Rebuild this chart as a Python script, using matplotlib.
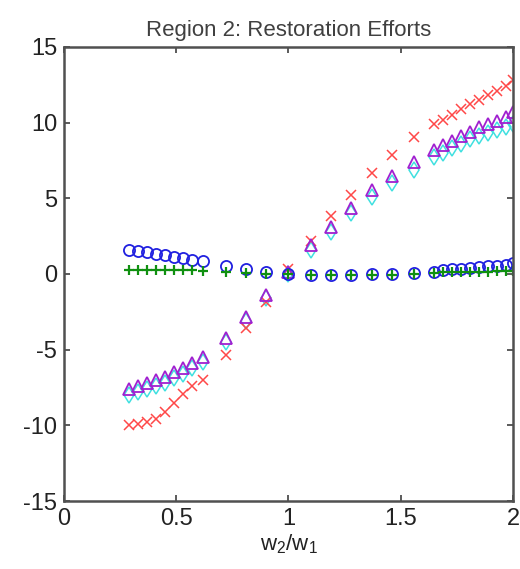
import matplotlib
matplotlib.use("Agg")
import matplotlib.pyplot as plt

plt.rcParams['font.family'] = ['Liberation Sans', 'DejaVu Sans']
plt.rcParams['mathtext.fontset'] = 'custom'
plt.rcParams['mathtext.rm'] = 'Liberation Sans'
plt.rcParams['mathtext.it'] = 'Liberation Sans'

x = [0.29, 0.33, 0.37, 0.41, 0.45, 0.49, 0.53, 0.57, 0.62,
     0.72, 0.81, 0.90, 1.00, 1.10, 1.19, 1.28, 1.37, 1.46, 1.56, 1.65,
     1.69, 1.73, 1.77, 1.81, 1.85, 1.89, 1.93, 1.97, 2.00]

blue_circ = [1.6, 1.5, 1.45, 1.35, 1.25, 1.15, 1.05, 0.95, 0.85,
             0.55, 0.3, 0.15, 0.0, -0.05, -0.05, -0.05, 0.0, 0.0, 0.05, 0.15,
             0.25, 0.3, 0.35, 0.4, 0.45, 0.5, 0.55, 0.6, 0.7]
green_plus = [0.25, 0.25, 0.25, 0.25, 0.25, 0.25, 0.25, 0.25, 0.2,
              0.15, 0.05, 0.0, 0.0, -0.05, -0.05, -0.05, -0.05, -0.05, 0.0, 0.05,
              0.1, 0.1, 0.1, 0.15, 0.15, 0.15, 0.2, 0.2, 0.2]
magenta_tri = [-7.6, -7.4, -7.2, -7.0, -6.8, -6.5, -6.2, -5.9, -5.5,
               -4.2, -2.85, -1.4, 0.1, 1.9, 3.1, 4.35, 5.55, 6.5, 7.4, 8.2,
               8.5, 8.8, 9.1, 9.4, 9.7, 9.9, 10.1, 10.4, 10.7]
cyan_dia = [-8.0, -7.8, -7.6, -7.4, -7.2, -6.9, -6.6, -6.2, -5.8,
            -4.5, -3.1, -1.6, 0.0, 1.6, 2.8, 4.0, 5.1, 6.0, 6.9, 7.7,
            8.0, 8.3, 8.6, 8.9, 9.1, 9.3, 9.5, 9.7, 9.9]
red_x = [-10.0, -9.9, -9.8, -9.6, -9.1, -8.5, -7.9, -7.4, -7.0,
         -5.35, -3.6, -1.85, 0.3, 2.2, 3.8, 5.2, 6.65, 7.85, 9.05, 9.9,
         10.2, 10.5, 10.9, 11.2, 11.5, 11.8, 12.1, 12.4, 12.8]

xticks = [0, 0.5, 1, 1.5, 2]
xticklabels = ['0', '0.5', '1', '1.5', '2']
yticks = [-15, -10, -5, 0, 5, 10, 15]
yticklabels = ['-15', '-10', '-5', '0', '5', '10', '15']

fig = plt.figure(figsize=(5.2, 5.69), dpi=100)
ax = fig.add_axes([0.123, 0.1195, 0.8635, 0.798])

ms = 8
ax.plot(x, cyan_dia, linestyle='none', marker='d', markersize=ms, markerfacecolor='none',
        markeredgecolor='#40e0e0', markeredgewidth=1.1)
ax.plot(x, red_x, linestyle='none', marker='x', markersize=7, color='#ff4848', markeredgewidth=1.1)
ax.plot(x, magenta_tri, linestyle='none', marker='^', markersize=ms + 1, markerfacecolor='none',
        markeredgecolor='#a020d0', markeredgewidth=1.3)
ax.plot(x, blue_circ, linestyle='none', marker='o', markersize=ms, markerfacecolor='none',
        markeredgecolor='#2020e0', markeredgewidth=1.3)
ax.plot(x, green_plus, linestyle='none', marker='+', markersize=7, color='#109010', markeredgewidth=1.6)

ax.set_xlim(0, 2)
ax.set_ylim(-15, 15)
ax.set_xticks(xticks)
ax.set_xticklabels(xticklabels)
ax.set_yticks(yticks)
ax.set_yticklabels(yticklabels)
ax.tick_params(direction='in', top=True, right=True, length=4, width=1.2, labelsize=17,
               color='#404040', labelcolor='#222222')
ax.tick_params(axis='x', pad=5)
ax.tick_params(axis='y', pad=5)
for s in ax.spines.values():
    s.set_linewidth(1.8)
    s.set_color('#505050')

ax.set_title('Region 2: Restoration Efforts', fontsize=16, color='#404040', pad=8)
ax.set_xlabel(r'w$_2$/w$_1$', fontsize=16, labelpad=2, color='#222222')

fig.savefig('out.png', dpi=100)
